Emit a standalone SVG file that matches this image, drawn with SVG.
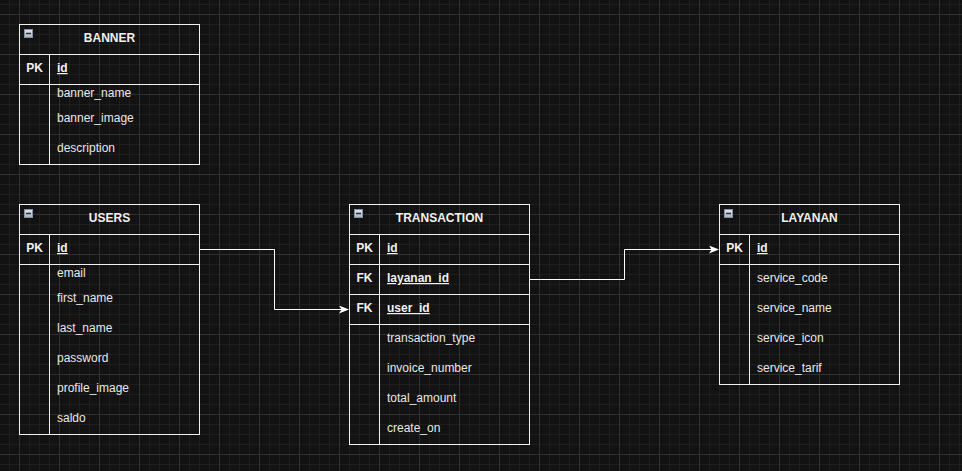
<svg xmlns="http://www.w3.org/2000/svg" width="962" height="471" viewBox="0 0 962 471">
<style>
.frame{fill:none;stroke:#f0f0f0;stroke-width:1}
.ln{stroke:#f0f0f0;stroke-width:1;fill:none}
text{font-family:"Liberation Sans",Arial,sans-serif;font-size:12px;fill:#f0f0f0}
.title{font-weight:bold;text-anchor:middle}
.key{font-weight:bold;text-anchor:middle}
.pkf{font-weight:bold;text-decoration:underline}
.fld{fill:#e8e8e8}
.edge{fill:none;stroke:#ffffff;stroke-width:1}
.icon{fill:url(#ig);stroke:#8090a8;stroke-width:1}
.minus{stroke:#303030;stroke-width:1.5}
</style>
<defs>
<pattern id="grid" x="19" y="14" width="40" height="40" patternUnits="userSpaceOnUse">
<path d="M10.5,0V40M20.5,0V40M30.5,0V40M0,10.5H40M0,20.5H40M0,30.5H40" stroke="#1e1e1e" stroke-width="1" fill="none"/>
<path d="M0.5,0V40M0,0.5H40" stroke="#303030" stroke-width="1" fill="none"/>
</pattern>
<linearGradient id="ig" x1="0" y1="0" x2="0" y2="1">
<stop offset="0" stop-color="#e4e7ec"/>
<stop offset="1" stop-color="#aab3c2"/>
</linearGradient>
<marker id="arr" viewBox="0 0 10 8" refX="9" refY="4" markerWidth="10" markerHeight="8" markerUnits="userSpaceOnUse" orient="auto">
<path d="M0,0L10,4L0,8L2.5,4Z" fill="#ffffff"/>
</marker>
</defs>
<rect width="962" height="471" fill="#121212"/>
<rect width="962" height="471" fill="url(#grid)"/>

<g id="connectors">
<path class="edge" d="M199.5,249.5H274.5V309.5H348" marker-end="url(#arr)"/>
<path class="edge" d="M529.5,279.5H624.5V249.5H718" marker-end="url(#arr)"/>
</g>

<g id="banner">
<rect class="frame" x="19.5" y="24.5" width="180" height="140"/>
<path class="ln" d="M19.5,54.5H199.5M19.5,84.5H199.5M49.5,54.5V164.5"/>
<rect class="icon" x="24.5" y="29.5" width="8" height="8"/>
<path class="minus" d="M26,33.5H31"/>
<text class="title" x="109.5" y="42">BANNER</text>
<text class="key" x="34.5" y="72">PK</text>
<text class="pkf" x="57" y="72">id</text>
<text class="fld" x="57" y="97">banner_name</text>
<text class="fld" x="57" y="122">banner_image</text>
<text class="fld" x="57" y="152">description</text>
</g>

<g id="users">
<rect class="frame" x="19.5" y="204.5" width="180" height="230"/>
<path class="ln" d="M19.5,234.5H199.5M19.5,264.5H199.5M49.5,234.5V434.5"/>
<rect class="icon" x="24.5" y="209.5" width="8" height="8"/>
<path class="minus" d="M26,213.5H31"/>
<text class="title" x="109.5" y="222">USERS</text>
<text class="key" x="34.5" y="252">PK</text>
<text class="pkf" x="57" y="252">id</text>
<text class="fld" x="57" y="277">email</text>
<text class="fld" x="57" y="302">first_name</text>
<text class="fld" x="57" y="332">last_name</text>
<text class="fld" x="57" y="362">password</text>
<text class="fld" x="57" y="392">profile_image</text>
<text class="fld" x="57" y="422">saldo</text>
</g>

<g id="transaction">
<rect class="frame" x="349.5" y="204.5" width="180" height="240"/>
<path class="ln" d="M349.5,234.5H529.5M349.5,264.5H529.5M349.5,294.5H529.5M349.5,324.5H529.5M379.5,234.5V444.5"/>
<rect class="icon" x="354.5" y="209.5" width="8" height="8"/>
<path class="minus" d="M356,213.5H361"/>
<text class="title" x="439.5" y="222">TRANSACTION</text>
<text class="key" x="364.5" y="252">PK</text>
<text class="pkf" x="387" y="252">id</text>
<text class="key" x="364.5" y="282">FK</text>
<text class="pkf" x="387" y="282">layanan_id</text>
<text class="key" x="364.5" y="312">FK</text>
<text class="pkf" x="387" y="312">user_id</text>
<text class="fld" x="387" y="342">transaction_type</text>
<text class="fld" x="387" y="372">invoice_number</text>
<text class="fld" x="387" y="402">total_amount</text>
<text class="fld" x="387" y="432">create_on</text>
</g>

<g id="layanan">
<rect class="frame" x="719.5" y="204.5" width="180" height="180"/>
<path class="ln" d="M719.5,234.5H899.5M719.5,264.5H899.5M749.5,234.5V384.5"/>
<rect class="icon" x="724.5" y="209.5" width="8" height="8"/>
<path class="minus" d="M726,213.5H731"/>
<text class="title" x="809.5" y="222">LAYANAN</text>
<text class="key" x="734.5" y="252">PK</text>
<text class="pkf" x="757" y="252">id</text>
<text class="fld" x="757" y="282">service_code</text>
<text class="fld" x="757" y="312">service_name</text>
<text class="fld" x="757" y="342">service_icon</text>
<text class="fld" x="757" y="372">service_tarif</text>
</g>
</svg>
